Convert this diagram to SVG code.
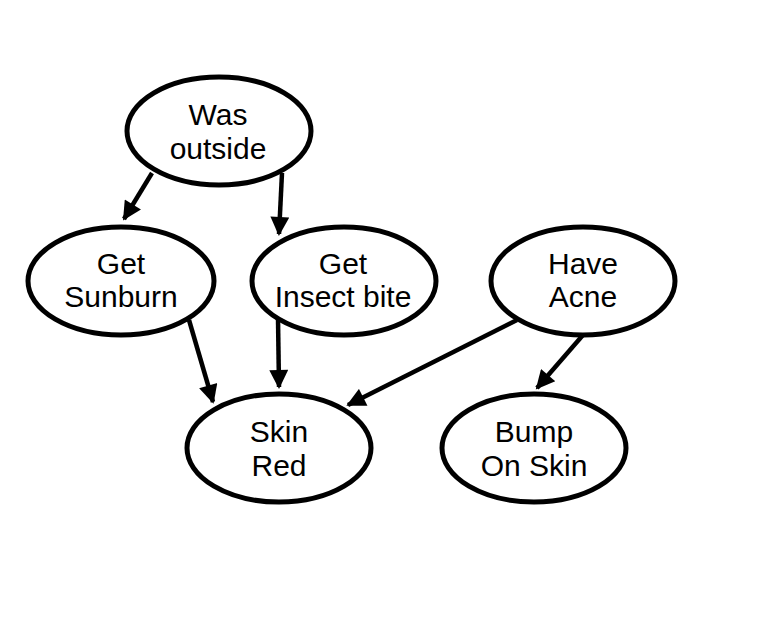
<svg xmlns="http://www.w3.org/2000/svg" width="768" height="622" viewBox="0 0 768 622">
<defs>
<style>
.n ellipse{fill:#fff;stroke:#000;stroke-width:5}
.n text{font-family:"Liberation Sans",Arial,sans-serif;font-size:30px;text-anchor:middle;fill:#000}
.e line{stroke:#000;stroke-width:4.5;marker-end:url(#a)}
</style>
<marker id="a" viewBox="0 0 10 10" refX="9" refY="5" markerWidth="4.6" markerHeight="4.2" orient="auto" markerUnits="strokeWidth">
<path d="M0,0 L10,5 L0,10 z" fill="#000"/>
</marker>
</defs>
<rect width="768" height="622" fill="#fff"/>
<g class="e">
<line x1="152" y1="173" x2="124" y2="219"/>
<line x1="282" y1="173" x2="279" y2="234"/>
<line x1="189" y1="320" x2="213" y2="402"/>
<line x1="278" y1="318" x2="279" y2="387"/>
<line x1="517" y1="320" x2="348" y2="405"/>
<line x1="583" y1="335" x2="537" y2="388"/>
</g>
<g class="n" id="was-outside"><ellipse cx="219" cy="131" rx="92" ry="54"/><text x="218" y="125">Was</text><text x="218" y="159">outside</text></g>
<g class="n" id="get-sunburn"><ellipse cx="121" cy="281" rx="93" ry="54"/><text x="121" y="274">Get</text><text x="121" y="307">Sunburn</text></g>
<g class="n" id="get-insect-bite"><ellipse cx="344" cy="281" rx="92" ry="54"/><text x="343" y="274">Get</text><text x="343" y="307">Insect bite</text></g>
<g class="n" id="have-acne"><ellipse cx="583" cy="281" rx="92" ry="54"/><text x="583" y="274">Have</text><text x="583" y="307">Acne</text></g>
<g class="n" id="skin-red"><ellipse cx="279" cy="448" rx="92" ry="54"/><text x="279" y="442">Skin</text><text x="279" y="476">Red</text></g>
<g class="n" id="bump-on-skin"><ellipse cx="534" cy="448" rx="92" ry="54"/><text x="534" y="442">Bump</text><text x="534" y="476">On Skin</text></g>
</svg>
